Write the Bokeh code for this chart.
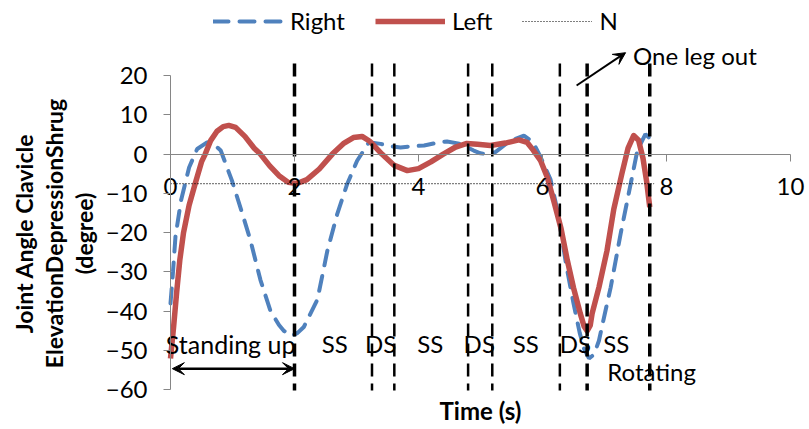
import math
from bokeh.plotting import figure
from bokeh.models import Range1d, FixedTicker, Legend, LegendItem, Arrow, VeeHead
from bokeh.core.properties import value
from bokeh.embed import file_html
from bokeh.resources import INLINE

# ---------------- data ----------------
time_right = [0.00, 0.04, 0.08, 0.17, 0.30, 0.43, 0.59, 0.70, 0.81, 0.99, 1.16, 1.29,
              1.45, 1.61, 1.75, 1.83, 1.96, 2.05, 2.15, 2.37, 2.53, 2.69, 2.85, 3.01,
              3.20, 3.39, 3.55, 3.71, 3.90, 4.09, 4.30, 4.46, 4.68, 4.89, 5.00, 5.10,
              5.24, 5.48, 5.70, 5.85, 5.97, 6.13, 6.25, 6.38, 6.50, 6.60, 6.67, 6.75,
              6.83, 6.91, 7.00, 7.10, 7.26, 7.39, 7.53, 7.66, 7.73]
right = [-38, -30, -21, -11.8, -3.4, 1.3, 3.0, 2.5, 0.9, -6.7, -15.2, -22,
         -32, -39.8, -43.5, -45, -46.2, -45.5, -44, -37, -24.6, -15.2, -7.6, -1.7,
         3.0, 2.6, 2.0, 1.7, 2.0, 2.2, 2.9, 3.2, 2.6, 0.9, 0.2, 0.0,
         0.5, 3.4, 4.7, 3.0, -0.8, -6.5, -15, -28, -38, -45.5, -49.5, -52,
         -51, -47.5, -41, -33.9, -20.3, -10.1, 0.9, 5.1, 4.0]

time_left = [0.00, 0.05, 0.10, 0.15, 0.21, 0.30, 0.40, 0.50, 0.56, 0.65, 0.75, 0.85,
             0.94, 1.05, 1.20, 1.35, 1.45, 1.60, 1.75, 1.90, 2.04, 2.20, 2.40, 2.61,
             2.80, 2.95, 3.09, 3.22, 3.41, 3.60, 3.82, 4.00, 4.20, 4.40, 4.60, 4.78,
             4.95, 5.16, 5.40, 5.62, 5.75, 5.85, 5.97, 6.08, 6.18, 6.30, 6.40, 6.50,
             6.61, 6.67, 6.72, 6.77, 6.80, 6.91, 7.04, 7.15, 7.28, 7.38, 7.47, 7.55,
             7.62, 7.68, 7.73]
left = [-52, -44, -35, -27, -20, -13, -7.4, -2.0, 0, 3.5, 5.8, 7.0,
        7.3, 6.8, 4.5, 1.5, 0, -3, -5.5, -7.2, -7.5, -6.5, -3.8, 0,
        2.8, 4.2, 4.5, 3.2, 0, -2.8, -4.2, -3.7, -2.0, 0, 1.8, 2.7,
        2.5, 2.2, 2.8, 3.6, 3.0, 1.0, -1.7, -6, -11.8, -19, -27, -34,
        -40.6, -43.8, -45, -43.6, -40.6, -33.9, -24.6, -14, -5, 1.5, 4.7, 3.5,
        -1, -7, -13.5]

time_n = [0.0, 7.8]
n_vals = [-7.5, -7.5]

major_events = [2.0, 6.72, 7.73]
minor_events = [3.25, 3.61, 4.80, 5.19, 6.28]

phase_labels = ["SS", "DS", "SS", "DS", "SS", "DS", "SS"]
phase_x = [2.65, 3.39, 4.19, 4.98, 5.73, 6.53, 7.19]

x_ticks = [0, 2, 4, 6, 8, 10]
y_ticks = [-60, -50, -40, -30, -20, -10, 0, 10, 20]

x_title = "Time (s)"
y_title = ["Joint Angle Clavicle", "ElevationDepressionShrug", "(degree)"]

# ---------------- figure ----------------
FONT = "Lato"
FS = "24px"
GRAY = "#868686"
H = 427

p = figure(width=805, height=H, x_range=Range1d(-2.742, 10.242),
           y_range=Range1d(-69.57, 39.08),
           output_backend="svg", toolbar_location=None,
           min_border_left=0, min_border_right=0, min_border_top=0, min_border_bottom=0)
p.outline_line_color = None
p.grid.visible = False
p.background_fill_color = "white"
p.border_fill_color = "white"

# x axis crossing at y = 0
xa = p.xaxis[0]
xa.fixed_location = 0
xa.bounds = (0, 10)
xa.ticker = FixedTicker(ticks=x_ticks)
xa.axis_line_color = GRAY
xa.major_tick_line_color = GRAY
xa.major_tick_out = 7
xa.major_tick_in = 0
xa.minor_tick_line_color = None
xa.major_label_text_font = FONT
xa.major_label_text_font_size = FS
xa.major_label_text_color = "black"
xa.major_label_standoff = 17

# y axis at x = 0
ya = p.yaxis[0]
ya.fixed_location = 0
ya.bounds = (-60, 20)
ya.ticker = FixedTicker(ticks=y_ticks)
ya.axis_line_color = GRAY
ya.major_tick_line_color = GRAY
ya.major_tick_out = 7
ya.major_tick_in = 0
ya.minor_tick_line_color = None
ya.major_label_text_font = FONT
ya.major_label_text_font_size = FS
ya.major_label_text_color = "black"
ya.major_label_standoff = 16

# series
r_right = p.line(time_right, right, line_color="#4F81BD", line_width=4,
                 line_dash="15 11", line_cap="round")
r_left = p.line(time_left, left, line_color="#C0504D", line_width=5.5, line_join="round")
r_n = p.line(time_n, n_vals, line_color="black", line_width=1.2, line_dash="1 2")

# event lines
for xs, w in ((major_events, 3.5), (minor_events, 2.5)):
    p.segment(x0=xs, y0=[23.05] * len(xs), x1=xs, y1=[-60.15] * len(xs),
              line_color="black", line_width=w, line_dash="13 7")

# axis titles
p.text(x=[5.0], y=[-65.24], text=[x_title], text_font=value(FONT),
       text_font_size=value(FS), text_font_style="bold", text_color="black",
       text_align="center", text_baseline="middle")
p.text(x=[-2.371, -1.887, -1.403], y=[-20.2] * 3, text=y_title, angle=math.pi / 2,
       text_font=value(FONT), text_font_size=value("23px"), text_font_style="bold",
       text_color="black", text_align="center", text_baseline="middle")

# annotations
p.text(x=phase_x, y=[-48.2] * len(phase_x), text=phase_labels,
       text_font=value(FONT), text_font_size=value(FS), text_color="black",
       text_align="center", text_baseline="middle")
p.text(x=[0.97], y=[-48.2], text=["Standing up"], text_font=value(FONT),
       text_font_size=value("25px"), text_color="black", text_align="center",
       text_baseline="middle")
p.text(x=[7.76], y=[-55.2], text=["Rotating"], text_font=value(FONT),
       text_font_size=value(FS), text_color="black", text_align="center",
       text_baseline="middle")
p.text(x=[7.46], y=[25.1], text=["One leg out"], text_font=value(FONT),
       text_font_size=value(FS), text_color="black", text_align="left",
       text_baseline="middle")

p.add_layout(Arrow(start=VeeHead(size=12, fill_color="black", line_color="black"),
                   end=VeeHead(size=12, fill_color="black", line_color="black"),
                   x_start=0.03, y_start=-54.6, x_end=2.0, y_end=-54.6,
                   line_width=2.5, line_color="black"))
p.add_layout(Arrow(end=VeeHead(size=12, fill_color="black", line_color="black"),
                   x_start=6.55, y_start=17.45, x_end=7.34, y_end=25.8,
                   line_width=2, line_color="black"))

legend = Legend(items=[LegendItem(label="Right", renderers=[r_right]),
                       LegendItem(label="Left", renderers=[r_left]),
                       LegendItem(label="N", renderers=[r_n])],
                orientation="horizontal", location=(213, H - 6 - 29))
legend.glyph_width = 70
legend.glyph_height = 24
legend.label_standoff = 7
legend.spacing = 30
legend.padding = 0
legend.margin = 0
legend.border_line_color = None
legend.background_fill_alpha = 0
legend.label_text_font = FONT
legend.label_text_font_size = FS
legend.label_text_color = "black"
p.add_layout(legend)

open("out.html", "w").write(file_html(p, INLINE))
